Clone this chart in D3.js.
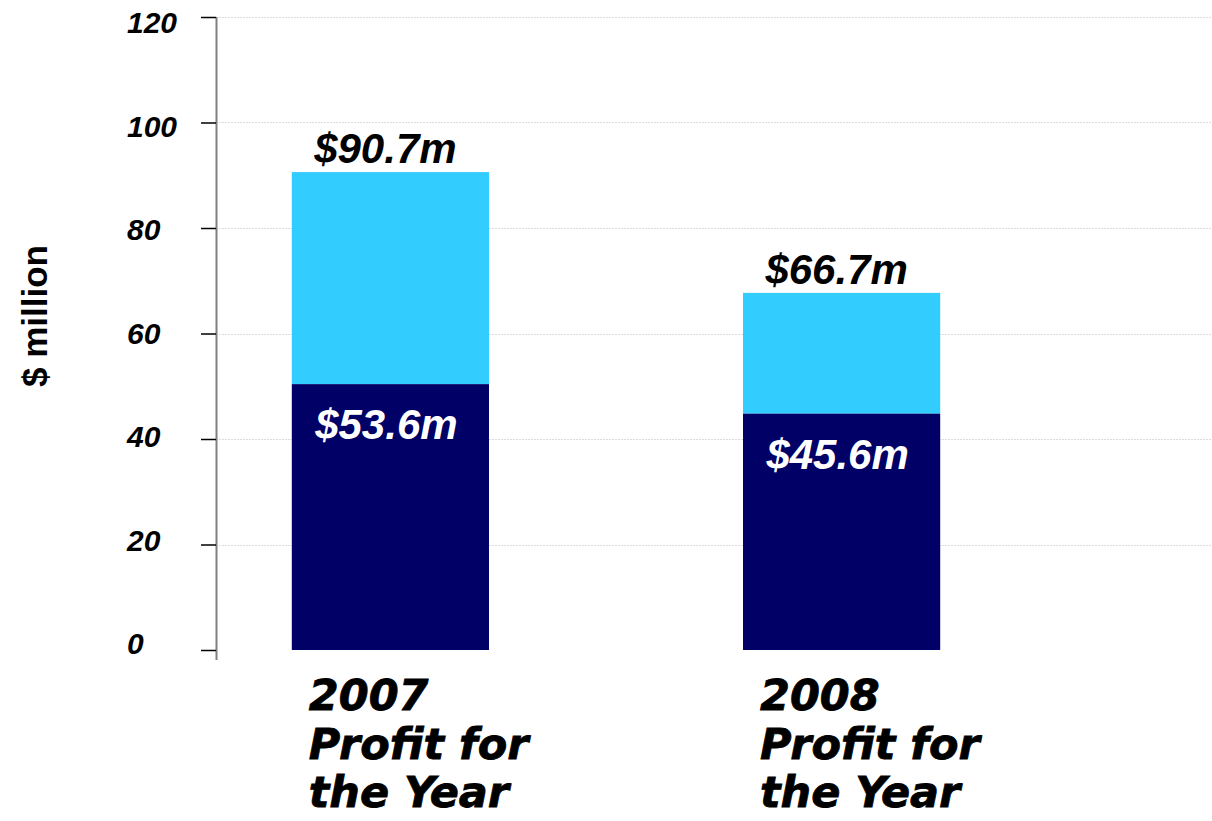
<!DOCTYPE html>
<html>
<head>
<meta charset="utf-8">
<script src="https://cdn.jsdelivr.net/npm/d3@7"></script>
<style>
  body { margin: 0; background: #fff; }
  svg { display: block; }
</style>
</head>
<body>
<div id="chart"></div>
<script>
// values ($ million)
const years = ["2007", "2008"]
const categoryLines = [
  ["2007", "Profit for", "the Year"],
  ["2008", "Profit for", "the Year"],
]
const baseValues = [50.4, 44.8]
const totalValues = [90.6, 67.7]
const baseLabels = ["$53.6m", "$45.6m"]
const totalLabels = ["$90.7m", "$66.7m"]
const yTicks = [0, 20, 40, 60, 80, 100, 120]

const width = 1212
const height = 821
const axisX = 216

const svg = d3.select("#chart")
  .append("svg")
  .attr("width", width)
  .attr("height", height)

const y = d3.scaleLinear().domain([0, 120]).range([650, 17])
// the tick labels sit on a slightly tighter spacing than the ticks
const yLabel = d3.scaleLinear().domain([0, 120]).range([643, 22])

const x = d3.scaleBand()
  .domain(years)
  .range([axisX, 1016])
  .paddingInner(0.563)
  .paddingOuter(0.168)

// gridlines
svg.append("g")
  .selectAll("line")
  .data(yTicks.filter((d) => d > 0))
  .enter()
  .append("line")
  .attr("x1", axisX)
  .attr("x2", width)
  .attr("y1", (d) => Math.round(y(d)) + 0.5)
  .attr("y2", (d) => Math.round(y(d)) + 0.5)
  .attr("stroke", "#dcdcdc")
  .attr("stroke-width", 1)
  .attr("stroke-dasharray", "2,1")

const data = years.map((yr, i) => ({
  year: yr,
  base: baseValues[i],
  total: totalValues[i],
}))

// top (light) segment
svg.append("g")
  .selectAll("rect")
  .data(data)
  .enter()
  .append("rect")
  .attr("x", (d) => x(d.year))
  .attr("width", x.bandwidth())
  .attr("y", (d) => y(d.total))
  .attr("height", (d) => y(d.base) - y(d.total))
  .attr("fill", "#33ccff")

// bottom (dark) segment
svg.append("g")
  .selectAll("rect")
  .data(data)
  .enter()
  .append("rect")
  .attr("x", (d) => x(d.year))
  .attr("width", x.bandwidth())
  .attr("y", (d) => y(d.base))
  .attr("height", (d) => y(0) - y(d.base))
  .attr("fill", "#000066")

// y axis
const yAxis = svg.append("g")
  .attr("transform", `translate(${axisX},0)`)
  .call(d3.axisLeft(y).tickValues(yTicks).tickSize(15))

yAxis.select(".domain")
  .attr("d", `M0.5,${y(120)}V660`)
  .attr("stroke", "#808080")
  .attr("stroke-width", 2)
yAxis.selectAll(".tick line").attr("stroke", "#000").attr("stroke-width", 1.5)
// labels are left aligned in this chart
yAxis.selectAll(".tick text")
  .attr("x", 127 - axisX)
  .attr("text-anchor", "start")
  .attr("y", (d) => yLabel(d) - y(d))
  .attr("dy", "0.36em")
  .attr("font-family", "'Liberation Sans', Arial, sans-serif")
  .attr("font-weight", "bold")
  .attr("font-style", "italic")
  .attr("font-size", 30)
  .attr("fill", "#000")

// axis title
svg.append("text")
  .attr("transform", "translate(47,316) rotate(-90)")
  .attr("text-anchor", "middle")
  .attr("font-family", "'Liberation Sans', Arial, sans-serif")
  .attr("font-weight", "bold")
  .attr("font-size", 35)
  .text("$ million")

const labelFont = "'Liberation Sans', Arial, sans-serif"

// total labels above bars
svg.append("g")
  .selectAll("text")
  .data(data)
  .enter()
  .append("text")
  .attr("x", (d) => x(d.year) + x.bandwidth() / 2 - 5)
  .attr("y", (d) => y(d.total) - 9)
  .attr("text-anchor", "middle")
  .attr("font-family", labelFont)
  .attr("font-weight", "bold")
  .attr("font-style", "italic")
  .attr("font-size", 42)
  .attr("fill", "#000")
  .text((d, i) => totalLabels[i])

// base labels inside dark segment
svg.append("g")
  .selectAll("text")
  .data(data)
  .enter()
  .append("text")
  .attr("x", (d) => x(d.year) + x.bandwidth() / 2 - 4)
  .attr("y", (d) => y(d.base) + 55)
  .attr("text-anchor", "middle")
  .attr("font-family", labelFont)
  .attr("font-weight", "bold")
  .attr("font-style", "italic")
  .attr("font-size", 42)
  .attr("fill", "#fff")
  .text((d, i) => baseLabels[i])

// category labels
const cat = svg.append("g")
  .selectAll("text")
  .data(data)
  .enter()
  .append("text")
  .attr("x", (d) => x(d.year) + 17)
  .attr("y", 710)
  .attr("font-family", "'DejaVu Sans', Verdana, sans-serif")
  .attr("font-weight", "bold")
  .attr("font-style", "italic")
  .attr("font-size", 43)
  .attr("fill", "#000")
  .attr("stroke", "#000")
  .attr("stroke-width", 0.8)

cat.selectAll("tspan")
  .data((d, i) => categoryLines[i])
  .enter()
  .append("tspan")
  .attr("x", function () { return d3.select(this.parentNode).attr("x") })
  .attr("dy", (d, i) => (i === 0 ? 0 : 48.5))
  .text((d) => d)
</script>
</body>
</html>
